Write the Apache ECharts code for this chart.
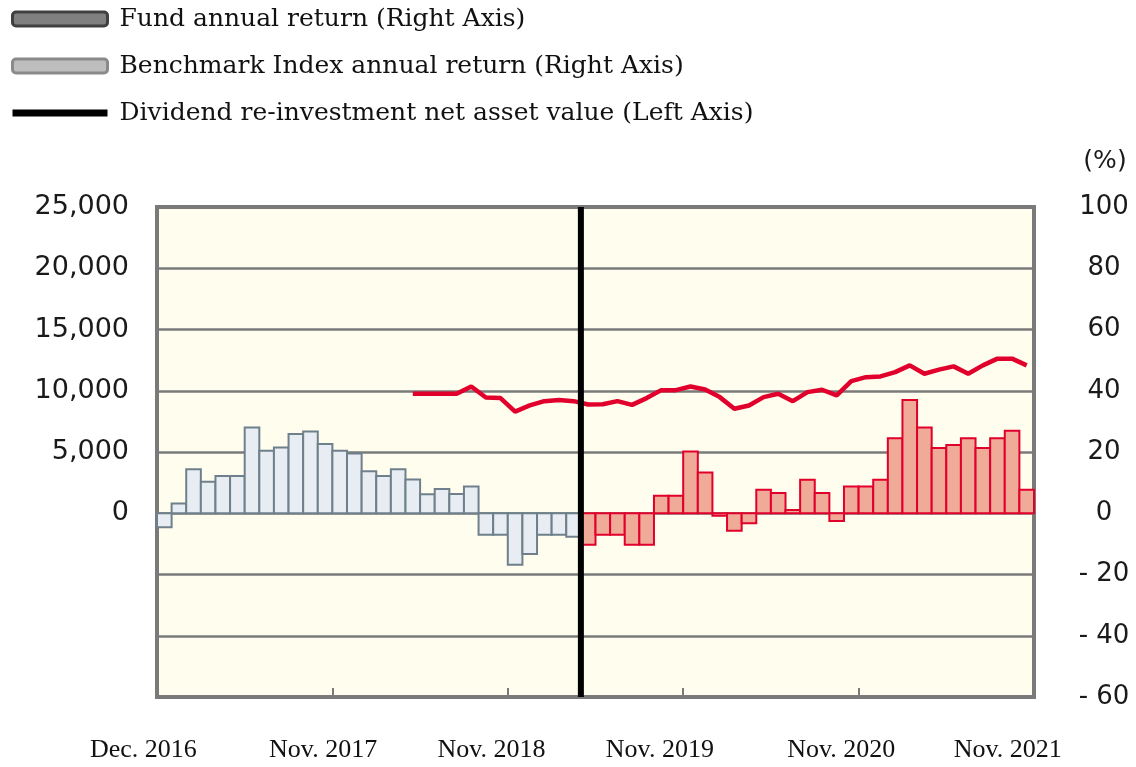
<!DOCTYPE html>
<html>
<head>
<meta charset="utf-8">
<script src="https://cdn.jsdelivr.net/npm/echarts@6/dist/echarts.min.js"></script>
<style>
  html, body { margin: 0; padding: 0; background: #fff; }
  #chart { width: 1136px; height: 767px; }
</style>
</head>
<body>
<div id="chart"></div>
<script>
// 月次カテゴリ（2016年12月〜2021年11月）
const monthNames = ['Jan.', 'Feb.', 'Mar.', 'Apr.', 'May', 'Jun.', 'Jul.', 'Aug.', 'Sep.', 'Oct.', 'Nov.', 'Dec.']
const categories = Array.from({ length: 60 }, (_, i) => {
  const m = (11 + i) % 12
  const y = 2016 + Math.floor((11 + i) / 12)
  return monthNames[m] + ' ' + y
})

// 軸ラベルを出す月
const xLabelIdx = [0, 11, 23, 35, 47, 59]
const xLabels = ['Dec. 2016', 'Nov. 2017', 'Nov. 2018', 'Nov. 2019', 'Nov. 2020', 'Nov. 2021']

// ベンチマーク年間騰落率（%）: Dec. 2016 から
const benchReturn = [
  -4.6, 3.2, 14.4, 10.3, 12.2, 12.2, 28.0, 20.4, 21.5, 25.9,
  26.7, 22.6, 20.4, 19.5, 13.7, 12.2, 14.4, 11.0, 6.2, 7.9,
  6.3, 8.7, -7.0, -7.0, -16.8, -13.3, -7.0, -7.0, -7.7
]
const benchStart = 0

// ファンド年間騰落率（%）
const fundReturn = [
  -10.3, -7.0, -7.0, -10.3, -10.3, 5.7, 5.7, 20.2, 13.3, -0.8,
  -5.7, -3.3, 7.7, 6.6, 1.1, 10.9, 6.6, -2.5, 8.7, 8.7,
  10.9, 24.5, 37.0, 28.0, 21.3, 22.3, 24.5, 21.3, 24.5, 26.9,
  7.7
]
const fundStart = 29

// 分配金再投資基準価額（円）
const navValues = [
  9750, 9750, 9750, 9750, 10350, 9450, 9400, 8300, 8800, 9150,
  9250, 9150, 8880, 8900, 9150, 8850, 9400, 10050, 10050, 10350,
  10100, 9480, 8530, 8800, 9480, 9750, 9150, 9890, 10080, 9620,
  10790, 11110, 11170, 11520, 12070, 11390, 11720, 11990, 11390, 12070,
  12620, 12620, 12070
]
const navStart = 17

// 区切り線の位置（月境界）
const splitIndex = 29

const FUND = 'Fund annual return (Right Axis)'
const BENCH = 'Benchmark Index annual return (Right Axis)'
const NAV = 'Dividend re-investment net asset value (Left Axis)'

const pad = (arr, start) => categories.map((_, i) => {
  const k = i - start
  return k >= 0 && k < arr.length ? arr[k] : null
})
const toPairs = (arr, start) => arr.map((v, k) => [start + k, v])

// ラベルの左寄せ量（px）
const labelShift = { 0: 21, 11: 2, 23: 9, 35: 16, 47: 10, 59: 19 }
const rich = {}
xLabelIdx.forEach((idx) => {
  rich['s' + idx] = {
    fontFamily: 'Liberation Serif',
    fontSize: 26,
    color: '#111',
    padding: [0, labelShift[idx] * 2, 0, 0]
  }
})

// 月幅いっぱいの棒（隣と枠線を共有）
const makeBarRenderer = (fill, stroke) => (params, api) => {
  const i = api.value(0)
  const v = api.value(1)
  const p0 = api.coord([i, 0])
  const p1 = api.coord([i + 1, v])
  return {
    type: 'rect',
    shape: {
      x: p0[0],
      y: Math.min(p0[1], p1[1]),
      width: p1[0] - p0[0],
      height: Math.abs(p1[1] - p0[1])
    },
    style: { fill: fill, stroke: stroke, lineWidth: 2 }
  }
}

const chart = echarts.init(document.getElementById('chart'))

const option = {
  animation: false,
  legend: {
    orient: 'vertical',
    left: 9,
    top: 4,
    padding: 0,
    itemWidth: 95,
    itemHeight: 14,
    itemGap: 17,
    selectedMode: false,
    textStyle: {
      fontFamily: 'DejaVu Serif',
      fontSize: 25,
      color: '#111',
      lineHeight: 30,
      padding: [0, 0, 0, 7]
    },
    data: [
      { name: FUND, icon: 'roundRect', itemStyle: { color: '#808080', borderColor: '#404040', borderWidth: 3 } },
      { name: BENCH, icon: 'roundRect', itemStyle: { color: '#bebebe', borderColor: '#8a8a8a', borderWidth: 3 } },
      { name: NAV, itemStyle: { color: 'transparent', borderColor: 'transparent', borderWidth: 0 }, lineStyle: { color: '#000', width: 7 } }
    ]
  },
  grid: {
    left: 157,
    right: 102,
    top: 207,
    bottom: 70,
    show: true,
    backgroundColor: '#fffdee',
    borderColor: '#7a7a7a',
    borderWidth: 4
  },
  xAxis: [
    {
      type: 'category',
      data: categories,
      boundaryGap: true,
      axisLine: { show: false, onZero: false },
      axisTick: {
        show: true,
        inside: true,
        length: 9,
        interval: (i) => i > 0 && i % 12 === 0,
        lineStyle: { color: '#7a7a7a', width: 2 }
      },
      axisLabel: {
        interval: (i) => xLabelIdx.includes(i),
        margin: 40,
        formatter: (val, i) => {
          const k = xLabelIdx.indexOf(i)
          return k >= 0 ? '{s' + i + '|' + xLabels[k] + '}' : ''
        },
        rich: rich
      },
      splitLine: { show: false }
    },
    {
      type: 'value',
      min: 0,
      max: 60,
      show: false
    }
  ],
  yAxis: [
    {
      type: 'value',
      position: 'left',
      min: -15000,
      max: 25000,
      interval: 5000,
      axisLine: { show: false },
      axisTick: { show: false },
      axisLabel: {
        margin: 28,
        fontFamily: 'DejaVu Sans',
        fontSize: 27,
        color: '#1a1a1a',
        formatter: (v) => (v < 0 ? '' : v.toLocaleString('en-US'))
      },
      splitLine: { lineStyle: { color: '#7a7a7a', width: 2.5 } }
    },
    {
      type: 'value',
      position: 'right',
      min: -60,
      max: 100,
      interval: 20,
      name: '(%)',
      nameLocation: 'end',
      nameGap: 33,
      nameTextStyle: {
        fontFamily: 'DejaVu Sans',
        fontSize: 25,
        color: '#1a1a1a',
        align: 'center',
        padding: [0, 0, 0, 142]
      },
      axisLine: { show: false },
      axisTick: { show: false },
      axisLabel: {
        margin: 70,
        align: 'center',
        fontFamily: 'DejaVu Sans',
        fontSize: 26,
        color: '#1a1a1a',
        formatter: (v) => (v < 0 ? '- ' + Math.abs(v) : String(v))
      },
      splitLine: { show: false }
    }
  ],
  series: [
    {
      name: FUND,
      type: 'custom',
      xAxisIndex: 1,
      yAxisIndex: 1,
      z: 2,
      itemStyle: { color: '#f0aa98', borderColor: '#e1002b' },
      renderItem: makeBarRenderer('#f0aa98', '#e1002b'),
      data: toPairs(fundReturn, fundStart)
    },
    {
      name: BENCH,
      type: 'custom',
      xAxisIndex: 1,
      yAxisIndex: 1,
      z: 2,
      itemStyle: { color: '#e7edf2', borderColor: '#6f808c' },
      renderItem: makeBarRenderer('#e7edf2', '#6f808c'),
      data: toPairs(benchReturn, benchStart)
    },
    {
      name: NAV,
      type: 'line',
      xAxisIndex: 0,
      yAxisIndex: 0,
      symbol: 'none',
      z: 4,
      data: pad(navValues, navStart),
      lineStyle: { color: '#e1002b', width: 4.5 },
      itemStyle: { color: '#e1002b' }
    },
    {
      name: 'split',
      type: 'line',
      xAxisIndex: 1,
      yAxisIndex: 1,
      symbol: 'none',
      silent: true,
      z: 6,
      data: [[splitIndex, -60], [splitIndex, 100]],
      lineStyle: { color: '#000', width: 6 }
    }
  ]
}

chart.setOption(option)
</script>
</body>
</html>
